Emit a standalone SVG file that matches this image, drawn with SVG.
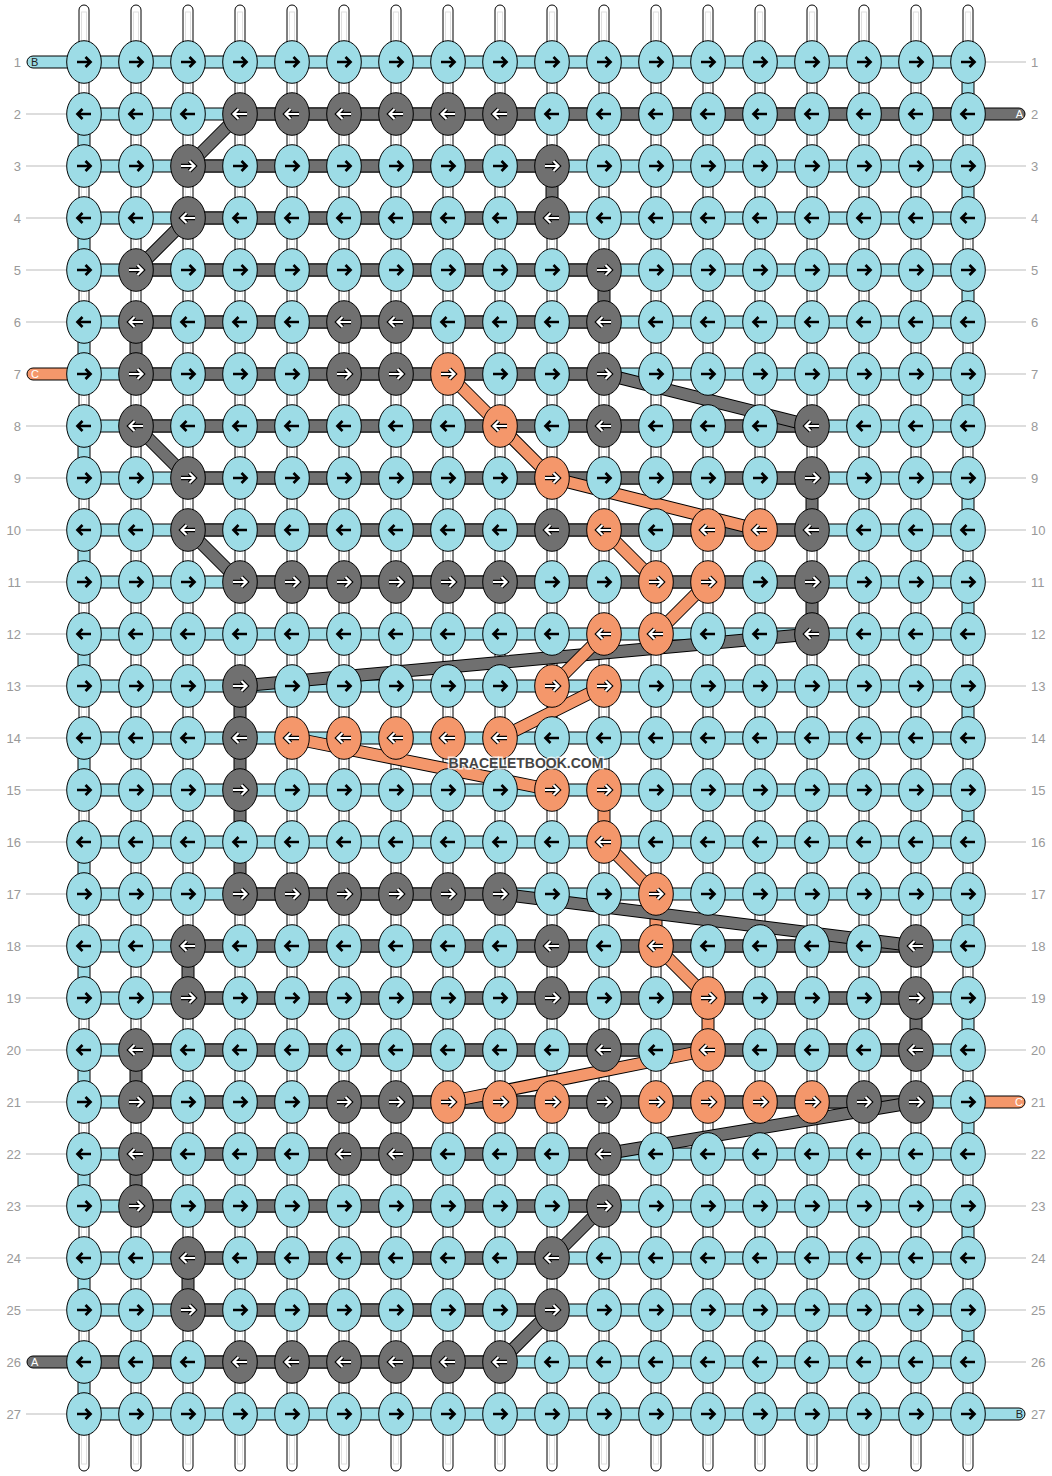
<svg xmlns="http://www.w3.org/2000/svg" width="1052" height="1476" viewBox="0 0 1052 1476">
<style>
.vs{fill:#fff;stroke:#000;stroke-width:1}
.vi{fill:none;stroke:#e0e0e0;stroke-width:1}
.hb{fill:#9ddce6;stroke:#000;stroke-width:1}
.ha{fill:#707070;stroke:#000;stroke-width:1}
.hc{fill:#f4976b;stroke:#000;stroke-width:1}
.do{stroke:#000;stroke-width:13;fill:none}
.da{stroke:#707070;stroke-width:11;fill:none}
.dc{stroke:#f4976b;stroke-width:11;fill:none}
.kb{fill:#9ddce6;stroke:#000;stroke-width:1}
.ka{fill:#707070;stroke:#000;stroke-width:1}
.kc{fill:#f4976b;stroke:#000;stroke-width:1}
.ab{fill:none;stroke:#000;stroke-width:2.7}
.ao{fill:none;stroke:#000;stroke-width:4.4}
.aw{fill:none;stroke:#fff;stroke-width:2.2}
.lbl{font-family:"Liberation Sans",Arial,sans-serif;font-size:13px;fill:#999}
.ll{stroke:#bbb;stroke-width:1}
.pl{font-family:"Liberation Sans",Arial,sans-serif;font-size:11px}
.wm{font-family:"Liberation Sans",Arial,sans-serif;font-size:14px;font-weight:bold;fill:#444;stroke:#fff;stroke-width:3;stroke-opacity:0.75;paint-order:stroke}
</style>
<defs>
<path id="ar" d="M-7 0H6.5M1.5-5L6.5 0 1.5 5"/>
<path id="al" d="M7 0H-6.5M-1.5-5L-6.5 0-1.5 5"/>
<g id="BR"><ellipse rx="17.3" ry="21.3" class="kb"/><use href="#ar" class="ab"/></g>
<g id="BL"><ellipse rx="17.3" ry="21.3" class="kb"/><use href="#al" class="ab"/></g>
<g id="AR"><ellipse rx="17.3" ry="21.3" class="ka"/><use href="#ar" class="ao"/><use href="#ar" class="aw"/></g>
<g id="AL"><ellipse rx="17.3" ry="21.3" class="ka"/><use href="#al" class="ao"/><use href="#al" class="aw"/></g>
<g id="CR"><ellipse rx="17.3" ry="21.3" class="kc"/><use href="#ar" class="ao"/><use href="#ar" class="aw"/></g>
<g id="CL"><ellipse rx="17.3" ry="21.3" class="kc"/><use href="#al" class="ao"/><use href="#al" class="aw"/></g>
</defs>
<rect width="1052" height="1476" fill="#fff"/>
<g id="verticals">
<rect class="vs" x="79" y="5" width="10" height="1466" rx="5"/><rect class="vs" x="131" y="5" width="10" height="1466" rx="5"/><rect class="vs" x="183" y="5" width="10" height="1466" rx="5"/><rect class="vs" x="235" y="5" width="10" height="1466" rx="5"/><rect class="vs" x="287" y="5" width="10" height="1466" rx="5"/><rect class="vs" x="339" y="5" width="10" height="1466" rx="5"/><rect class="vs" x="391" y="5" width="10" height="1466" rx="5"/><rect class="vs" x="443" y="5" width="10" height="1466" rx="5"/><rect class="vs" x="495" y="5" width="10" height="1466" rx="5"/><rect class="vs" x="547" y="5" width="10" height="1466" rx="5"/><rect class="vs" x="599" y="5" width="10" height="1466" rx="5"/><rect class="vs" x="651" y="5" width="10" height="1466" rx="5"/><rect class="vs" x="703" y="5" width="10" height="1466" rx="5"/><rect class="vs" x="755" y="5" width="10" height="1466" rx="5"/><rect class="vs" x="807" y="5" width="10" height="1466" rx="5"/><rect class="vs" x="859" y="5" width="10" height="1466" rx="5"/><rect class="vs" x="911" y="5" width="10" height="1466" rx="5"/><rect class="vs" x="963" y="5" width="10" height="1466" rx="5"/>
<rect class="vi" x="81.5" y="12" width="5" height="1452"/><rect class="vi" x="133.5" y="12" width="5" height="1452"/><rect class="vi" x="185.5" y="12" width="5" height="1452"/><rect class="vi" x="237.5" y="12" width="5" height="1452"/><rect class="vi" x="289.5" y="12" width="5" height="1452"/><rect class="vi" x="341.5" y="12" width="5" height="1452"/><rect class="vi" x="393.5" y="12" width="5" height="1452"/><rect class="vi" x="445.5" y="12" width="5" height="1452"/><rect class="vi" x="497.5" y="12" width="5" height="1452"/><rect class="vi" x="549.5" y="12" width="5" height="1452"/><rect class="vi" x="601.5" y="12" width="5" height="1452"/><rect class="vi" x="653.5" y="12" width="5" height="1452"/><rect class="vi" x="705.5" y="12" width="5" height="1452"/><rect class="vi" x="757.5" y="12" width="5" height="1452"/><rect class="vi" x="809.5" y="12" width="5" height="1452"/><rect class="vi" x="861.5" y="12" width="5" height="1452"/><rect class="vi" x="913.5" y="12" width="5" height="1452"/><rect class="vi" x="965.5" y="12" width="5" height="1452"/>
</g>
<g id="labels">
<g class="ll">
<line x1="26" y1="114" x2="66" y2="114"/><line x1="26" y1="166" x2="66" y2="166"/><line x1="26" y1="218" x2="66" y2="218"/><line x1="26" y1="270" x2="66" y2="270"/><line x1="26" y1="322" x2="66" y2="322"/><line x1="26" y1="426" x2="66" y2="426"/><line x1="26" y1="478" x2="66" y2="478"/><line x1="26" y1="530" x2="66" y2="530"/><line x1="26" y1="582" x2="66" y2="582"/><line x1="26" y1="634" x2="66" y2="634"/><line x1="26" y1="686" x2="66" y2="686"/><line x1="26" y1="738" x2="66" y2="738"/><line x1="26" y1="790" x2="66" y2="790"/><line x1="26" y1="842" x2="66" y2="842"/><line x1="26" y1="894" x2="66" y2="894"/><line x1="26" y1="946" x2="66" y2="946"/><line x1="26" y1="998" x2="66" y2="998"/><line x1="26" y1="1050" x2="66" y2="1050"/><line x1="26" y1="1102" x2="66" y2="1102"/><line x1="26" y1="1154" x2="66" y2="1154"/><line x1="26" y1="1206" x2="66" y2="1206"/><line x1="26" y1="1258" x2="66" y2="1258"/><line x1="26" y1="1310" x2="66" y2="1310"/><line x1="26" y1="1414" x2="66" y2="1414"/>
<line x1="986" y1="62" x2="1026" y2="62"/><line x1="986" y1="166" x2="1026" y2="166"/><line x1="986" y1="218" x2="1026" y2="218"/><line x1="986" y1="270" x2="1026" y2="270"/><line x1="986" y1="322" x2="1026" y2="322"/><line x1="986" y1="374" x2="1026" y2="374"/><line x1="986" y1="426" x2="1026" y2="426"/><line x1="986" y1="478" x2="1026" y2="478"/><line x1="986" y1="530" x2="1026" y2="530"/><line x1="986" y1="582" x2="1026" y2="582"/><line x1="986" y1="634" x2="1026" y2="634"/><line x1="986" y1="686" x2="1026" y2="686"/><line x1="986" y1="738" x2="1026" y2="738"/><line x1="986" y1="790" x2="1026" y2="790"/><line x1="986" y1="842" x2="1026" y2="842"/><line x1="986" y1="894" x2="1026" y2="894"/><line x1="986" y1="946" x2="1026" y2="946"/><line x1="986" y1="998" x2="1026" y2="998"/><line x1="986" y1="1050" x2="1026" y2="1050"/><line x1="986" y1="1154" x2="1026" y2="1154"/><line x1="986" y1="1206" x2="1026" y2="1206"/><line x1="986" y1="1258" x2="1026" y2="1258"/><line x1="986" y1="1310" x2="1026" y2="1310"/><line x1="986" y1="1362" x2="1026" y2="1362"/>
</g>
<g class="lbl" text-anchor="end">
<text x="21" y="67">1</text><text x="21" y="119">2</text><text x="21" y="171">3</text><text x="21" y="223">4</text><text x="21" y="275">5</text><text x="21" y="327">6</text><text x="21" y="379">7</text><text x="21" y="431">8</text><text x="21" y="483">9</text><text x="21" y="535">10</text><text x="21" y="587">11</text><text x="21" y="639">12</text><text x="21" y="691">13</text><text x="21" y="743">14</text><text x="21" y="795">15</text><text x="21" y="847">16</text><text x="21" y="899">17</text><text x="21" y="951">18</text><text x="21" y="1003">19</text><text x="21" y="1055">20</text><text x="21" y="1107">21</text><text x="21" y="1159">22</text><text x="21" y="1211">23</text><text x="21" y="1263">24</text><text x="21" y="1315">25</text><text x="21" y="1367">26</text><text x="21" y="1419">27</text>
</g>
<g class="lbl">
<text x="1031" y="67">1</text><text x="1031" y="119">2</text><text x="1031" y="171">3</text><text x="1031" y="223">4</text><text x="1031" y="275">5</text><text x="1031" y="327">6</text><text x="1031" y="379">7</text><text x="1031" y="431">8</text><text x="1031" y="483">9</text><text x="1031" y="535">10</text><text x="1031" y="587">11</text><text x="1031" y="639">12</text><text x="1031" y="691">13</text><text x="1031" y="743">14</text><text x="1031" y="795">15</text><text x="1031" y="847">16</text><text x="1031" y="899">17</text><text x="1031" y="951">18</text><text x="1031" y="1003">19</text><text x="1031" y="1055">20</text><text x="1031" y="1107">21</text><text x="1031" y="1159">22</text><text x="1031" y="1211">23</text><text x="1031" y="1263">24</text><text x="1031" y="1315">25</text><text x="1031" y="1367">26</text><text x="1031" y="1419">27</text>
</g>
</g>
<g id="connectors">
<g id="row-strings">
<rect class="hb" x="84" y="56" width="884" height="12"/><rect class="hb" x="84" y="108" width="884" height="12"/><rect class="hb" x="84" y="160" width="884" height="12"/><rect class="hb" x="84" y="212" width="884" height="12"/><rect class="hb" x="84" y="264" width="884" height="12"/><rect class="hb" x="84" y="316" width="884" height="12"/><rect class="hb" x="84" y="368" width="884" height="12"/><rect class="hb" x="84" y="420" width="884" height="12"/><rect class="hb" x="84" y="472" width="884" height="12"/><rect class="hb" x="84" y="524" width="884" height="12"/><rect class="hb" x="84" y="576" width="884" height="12"/><rect class="hb" x="84" y="628" width="884" height="12"/><rect class="hb" x="84" y="680" width="884" height="12"/><rect class="hb" x="84" y="732" width="884" height="12"/><rect class="hb" x="84" y="784" width="884" height="12"/><rect class="hb" x="84" y="836" width="884" height="12"/><rect class="hb" x="84" y="888" width="884" height="12"/><rect class="hb" x="84" y="940" width="884" height="12"/><rect class="hb" x="84" y="992" width="884" height="12"/><rect class="hb" x="84" y="1044" width="884" height="12"/><rect class="hb" x="84" y="1096" width="884" height="12"/><rect class="hb" x="84" y="1148" width="884" height="12"/><rect class="hb" x="84" y="1200" width="884" height="12"/><rect class="hb" x="84" y="1252" width="884" height="12"/><rect class="hb" x="84" y="1304" width="884" height="12"/><rect class="hb" x="84" y="1356" width="884" height="12"/><rect class="hb" x="84" y="1408" width="884" height="12"/>
<rect class="ha" x="240" y="108" width="728" height="12"/><rect class="ha" x="188" y="160" width="364" height="12"/><rect class="ha" x="188" y="212" width="364" height="12"/><rect class="ha" x="136" y="264" width="468" height="12"/><rect class="ha" x="136" y="316" width="468" height="12"/><rect class="ha" x="136" y="368" width="468" height="12"/><rect class="ha" x="136" y="420" width="676" height="12"/><rect class="ha" x="188" y="472" width="624" height="12"/><rect class="ha" x="188" y="524" width="624" height="12"/><rect class="ha" x="240" y="576" width="572" height="12"/><rect class="ha" x="240" y="888" width="260" height="12"/><rect class="ha" x="188" y="940" width="728" height="12"/><rect class="ha" x="188" y="992" width="728" height="12"/><rect class="ha" x="136" y="1044" width="780" height="12"/><rect class="ha" x="136" y="1096" width="780" height="12"/><rect class="ha" x="136" y="1148" width="468" height="12"/><rect class="ha" x="136" y="1200" width="468" height="12"/><rect class="ha" x="188" y="1252" width="364" height="12"/><rect class="ha" x="188" y="1304" width="364" height="12"/><rect class="ha" x="84" y="1356" width="416" height="12"/>
</g>
<g id="string-ends">
<rect class="hb" x="27" y="56" width="70" height="12" rx="6"/><rect class="hc" x="27" y="368" width="70" height="12" rx="6"/><rect class="ha" x="27" y="1356" width="70" height="12" rx="6"/>
<rect class="ha" x="955" y="108" width="70" height="12" rx="6"/><rect class="hc" x="955" y="1096" width="70" height="12" rx="6"/><rect class="hb" x="955" y="1408" width="70" height="12" rx="6"/>
<text class="pl" x="31" y="66" fill="#222">B</text><text class="pl" x="31" y="378" fill="#fff">C</text><text class="pl" x="31" y="1366" fill="#fff">A</text>
<text class="pl" x="1023" y="118" fill="#fff" text-anchor="end">A</text><text class="pl" x="1023" y="1106" fill="#fff" text-anchor="end">C</text><text class="pl" x="1023" y="1418" fill="#222" text-anchor="end">B</text>
</g>
<g id="column-links">
<rect class="hb" x="78" y="114" width="12" height="52"/><rect class="hb" x="78" y="218" width="12" height="52"/><rect class="hb" x="78" y="322" width="12" height="52"/><rect class="hb" x="78" y="426" width="12" height="52"/><rect class="hb" x="78" y="530" width="12" height="52"/><rect class="hb" x="78" y="634" width="12" height="52"/><rect class="hb" x="78" y="738" width="12" height="52"/><rect class="hb" x="78" y="842" width="12" height="52"/><rect class="hb" x="78" y="946" width="12" height="52"/><rect class="hb" x="78" y="1050" width="12" height="52"/><rect class="hb" x="78" y="1154" width="12" height="52"/><rect class="hb" x="78" y="1258" width="12" height="52"/><rect class="hb" x="78" y="1362" width="12" height="52"/>
<rect class="hb" x="962" y="62" width="12" height="52"/><rect class="hb" x="962" y="166" width="12" height="52"/><rect class="hb" x="962" y="270" width="12" height="52"/><rect class="hb" x="962" y="374" width="12" height="52"/><rect class="hb" x="962" y="478" width="12" height="52"/><rect class="hb" x="962" y="582" width="12" height="52"/><rect class="hb" x="962" y="686" width="12" height="52"/><rect class="hb" x="962" y="790" width="12" height="52"/><rect class="hb" x="962" y="894" width="12" height="52"/><rect class="hb" x="962" y="998" width="12" height="52"/><rect class="hb" x="962" y="1102" width="12" height="52"/><rect class="hb" x="962" y="1206" width="12" height="52"/><rect class="hb" x="962" y="1310" width="12" height="52"/>
<rect class="ha" x="546" y="166" width="12" height="52"/><rect class="ha" x="598" y="270" width="12" height="52"/><rect class="ha" x="130" y="322" width="12" height="52"/><rect class="ha" x="806" y="478" width="12" height="52"/><rect class="ha" x="806" y="582" width="12" height="52"/><rect class="ha" x="234" y="686" width="12" height="208"/><rect class="ha" x="182" y="946" width="12" height="52"/><rect class="ha" x="910" y="998" width="12" height="52"/><rect class="ha" x="130" y="1050" width="12" height="52"/><rect class="ha" x="130" y="1154" width="12" height="52"/><rect class="ha" x="182" y="1258" width="12" height="52"/>
<rect class="hc" x="598" y="790" width="12" height="52"/><rect class="hc" x="650" y="894" width="12" height="52"/><rect class="hc" x="702" y="998" width="12" height="52"/>
</g>
<g id="diagonals-gray">
<path class="do" d="M240 114L188 166M188 218L136 270M604 374L812 426M136 426L188 478M188 530L240 582M812 634L240 686M500 894L916 946M916 1102L604 1154M604 1206L552 1258M552 1310L500 1362"/>
<path class="da" d="M240 114L188 166M188 218L136 270M604 374L812 426M136 426L188 478M188 530L240 582M812 634L240 686M500 894L916 946M916 1102L604 1154M604 1206L552 1258M552 1310L500 1362"/>
</g>
<g id="diagonals-orange">
<path class="do" d="M448 374L500 426M500 426L552 478M552 478L760 530M604 530L656 582M708 582L656 634M604 634L552 686M604 686L500 738M292 738L552 790M604 842L656 894M656 946L708 998M708 1050L448 1102"/>
<path class="dc" d="M448 374L500 426M500 426L552 478M552 478L760 530M604 530L656 582M708 582L656 634M604 634L552 686M604 686L500 738M292 738L552 790M604 842L656 894M656 946L708 998M708 1050L448 1102"/>
</g>
</g>
<g id="knots">
<g transform="translate(0 62)"><g id="k1_1"><use href="#BR" x="84"/></g><g id="k1_2"><use href="#BR" x="136"/></g><g id="k1_3"><use href="#BR" x="188"/></g><g id="k1_4"><use href="#BR" x="240"/></g><g id="k1_5"><use href="#BR" x="292"/></g><g id="k1_6"><use href="#BR" x="344"/></g><g id="k1_7"><use href="#BR" x="396"/></g><g id="k1_8"><use href="#BR" x="448"/></g><g id="k1_9"><use href="#BR" x="500"/></g><g id="k1_10"><use href="#BR" x="552"/></g><g id="k1_11"><use href="#BR" x="604"/></g><g id="k1_12"><use href="#BR" x="656"/></g><g id="k1_13"><use href="#BR" x="708"/></g><g id="k1_14"><use href="#BR" x="760"/></g><g id="k1_15"><use href="#BR" x="812"/></g><g id="k1_16"><use href="#BR" x="864"/></g><g id="k1_17"><use href="#BR" x="916"/></g><g id="k1_18"><use href="#BR" x="968"/></g></g>
<g transform="translate(0 114)"><g id="k2_1"><use href="#BL" x="84"/></g><g id="k2_2"><use href="#BL" x="136"/></g><g id="k2_3"><use href="#BL" x="188"/></g><g id="k2_4"><use href="#AL" x="240"/></g><g id="k2_5"><use href="#AL" x="292"/></g><g id="k2_6"><use href="#AL" x="344"/></g><g id="k2_7"><use href="#AL" x="396"/></g><g id="k2_8"><use href="#AL" x="448"/></g><g id="k2_9"><use href="#AL" x="500"/></g><g id="k2_10"><use href="#BL" x="552"/></g><g id="k2_11"><use href="#BL" x="604"/></g><g id="k2_12"><use href="#BL" x="656"/></g><g id="k2_13"><use href="#BL" x="708"/></g><g id="k2_14"><use href="#BL" x="760"/></g><g id="k2_15"><use href="#BL" x="812"/></g><g id="k2_16"><use href="#BL" x="864"/></g><g id="k2_17"><use href="#BL" x="916"/></g><g id="k2_18"><use href="#BL" x="968"/></g></g>
<g transform="translate(0 166)"><g id="k3_1"><use href="#BR" x="84"/></g><g id="k3_2"><use href="#BR" x="136"/></g><g id="k3_3"><use href="#AR" x="188"/></g><g id="k3_4"><use href="#BR" x="240"/></g><g id="k3_5"><use href="#BR" x="292"/></g><g id="k3_6"><use href="#BR" x="344"/></g><g id="k3_7"><use href="#BR" x="396"/></g><g id="k3_8"><use href="#BR" x="448"/></g><g id="k3_9"><use href="#BR" x="500"/></g><g id="k3_10"><use href="#AR" x="552"/></g><g id="k3_11"><use href="#BR" x="604"/></g><g id="k3_12"><use href="#BR" x="656"/></g><g id="k3_13"><use href="#BR" x="708"/></g><g id="k3_14"><use href="#BR" x="760"/></g><g id="k3_15"><use href="#BR" x="812"/></g><g id="k3_16"><use href="#BR" x="864"/></g><g id="k3_17"><use href="#BR" x="916"/></g><g id="k3_18"><use href="#BR" x="968"/></g></g>
<g transform="translate(0 218)"><g id="k4_1"><use href="#BL" x="84"/></g><g id="k4_2"><use href="#BL" x="136"/></g><g id="k4_3"><use href="#AL" x="188"/></g><g id="k4_4"><use href="#BL" x="240"/></g><g id="k4_5"><use href="#BL" x="292"/></g><g id="k4_6"><use href="#BL" x="344"/></g><g id="k4_7"><use href="#BL" x="396"/></g><g id="k4_8"><use href="#BL" x="448"/></g><g id="k4_9"><use href="#BL" x="500"/></g><g id="k4_10"><use href="#AL" x="552"/></g><g id="k4_11"><use href="#BL" x="604"/></g><g id="k4_12"><use href="#BL" x="656"/></g><g id="k4_13"><use href="#BL" x="708"/></g><g id="k4_14"><use href="#BL" x="760"/></g><g id="k4_15"><use href="#BL" x="812"/></g><g id="k4_16"><use href="#BL" x="864"/></g><g id="k4_17"><use href="#BL" x="916"/></g><g id="k4_18"><use href="#BL" x="968"/></g></g>
<g transform="translate(0 270)"><g id="k5_1"><use href="#BR" x="84"/></g><g id="k5_2"><use href="#AR" x="136"/></g><g id="k5_3"><use href="#BR" x="188"/></g><g id="k5_4"><use href="#BR" x="240"/></g><g id="k5_5"><use href="#BR" x="292"/></g><g id="k5_6"><use href="#BR" x="344"/></g><g id="k5_7"><use href="#BR" x="396"/></g><g id="k5_8"><use href="#BR" x="448"/></g><g id="k5_9"><use href="#BR" x="500"/></g><g id="k5_10"><use href="#BR" x="552"/></g><g id="k5_11"><use href="#AR" x="604"/></g><g id="k5_12"><use href="#BR" x="656"/></g><g id="k5_13"><use href="#BR" x="708"/></g><g id="k5_14"><use href="#BR" x="760"/></g><g id="k5_15"><use href="#BR" x="812"/></g><g id="k5_16"><use href="#BR" x="864"/></g><g id="k5_17"><use href="#BR" x="916"/></g><g id="k5_18"><use href="#BR" x="968"/></g></g>
<g transform="translate(0 322)"><g id="k6_1"><use href="#BL" x="84"/></g><g id="k6_2"><use href="#AL" x="136"/></g><g id="k6_3"><use href="#BL" x="188"/></g><g id="k6_4"><use href="#BL" x="240"/></g><g id="k6_5"><use href="#BL" x="292"/></g><g id="k6_6"><use href="#AL" x="344"/></g><g id="k6_7"><use href="#AL" x="396"/></g><g id="k6_8"><use href="#BL" x="448"/></g><g id="k6_9"><use href="#BL" x="500"/></g><g id="k6_10"><use href="#BL" x="552"/></g><g id="k6_11"><use href="#AL" x="604"/></g><g id="k6_12"><use href="#BL" x="656"/></g><g id="k6_13"><use href="#BL" x="708"/></g><g id="k6_14"><use href="#BL" x="760"/></g><g id="k6_15"><use href="#BL" x="812"/></g><g id="k6_16"><use href="#BL" x="864"/></g><g id="k6_17"><use href="#BL" x="916"/></g><g id="k6_18"><use href="#BL" x="968"/></g></g>
<g transform="translate(0 374)"><g id="k7_1"><use href="#BR" x="84"/></g><g id="k7_2"><use href="#AR" x="136"/></g><g id="k7_3"><use href="#BR" x="188"/></g><g id="k7_4"><use href="#BR" x="240"/></g><g id="k7_5"><use href="#BR" x="292"/></g><g id="k7_6"><use href="#AR" x="344"/></g><g id="k7_7"><use href="#AR" x="396"/></g><g id="k7_8"><use href="#CR" x="448"/></g><g id="k7_9"><use href="#BR" x="500"/></g><g id="k7_10"><use href="#BR" x="552"/></g><g id="k7_11"><use href="#AR" x="604"/></g><g id="k7_12"><use href="#BR" x="656"/></g><g id="k7_13"><use href="#BR" x="708"/></g><g id="k7_14"><use href="#BR" x="760"/></g><g id="k7_15"><use href="#BR" x="812"/></g><g id="k7_16"><use href="#BR" x="864"/></g><g id="k7_17"><use href="#BR" x="916"/></g><g id="k7_18"><use href="#BR" x="968"/></g></g>
<g transform="translate(0 426)"><g id="k8_1"><use href="#BL" x="84"/></g><g id="k8_2"><use href="#AL" x="136"/></g><g id="k8_3"><use href="#BL" x="188"/></g><g id="k8_4"><use href="#BL" x="240"/></g><g id="k8_5"><use href="#BL" x="292"/></g><g id="k8_6"><use href="#BL" x="344"/></g><g id="k8_7"><use href="#BL" x="396"/></g><g id="k8_8"><use href="#BL" x="448"/></g><g id="k8_9"><use href="#CL" x="500"/></g><g id="k8_10"><use href="#BL" x="552"/></g><g id="k8_11"><use href="#AL" x="604"/></g><g id="k8_12"><use href="#BL" x="656"/></g><g id="k8_13"><use href="#BL" x="708"/></g><g id="k8_14"><use href="#BL" x="760"/></g><g id="k8_15"><use href="#AL" x="812"/></g><g id="k8_16"><use href="#BL" x="864"/></g><g id="k8_17"><use href="#BL" x="916"/></g><g id="k8_18"><use href="#BL" x="968"/></g></g>
<g transform="translate(0 478)"><g id="k9_1"><use href="#BR" x="84"/></g><g id="k9_2"><use href="#BR" x="136"/></g><g id="k9_3"><use href="#AR" x="188"/></g><g id="k9_4"><use href="#BR" x="240"/></g><g id="k9_5"><use href="#BR" x="292"/></g><g id="k9_6"><use href="#BR" x="344"/></g><g id="k9_7"><use href="#BR" x="396"/></g><g id="k9_8"><use href="#BR" x="448"/></g><g id="k9_9"><use href="#BR" x="500"/></g><g id="k9_10"><use href="#CR" x="552"/></g><g id="k9_11"><use href="#BR" x="604"/></g><g id="k9_12"><use href="#BR" x="656"/></g><g id="k9_13"><use href="#BR" x="708"/></g><g id="k9_14"><use href="#BR" x="760"/></g><g id="k9_15"><use href="#AR" x="812"/></g><g id="k9_16"><use href="#BR" x="864"/></g><g id="k9_17"><use href="#BR" x="916"/></g><g id="k9_18"><use href="#BR" x="968"/></g></g>
<g transform="translate(0 530)"><g id="k10_1"><use href="#BL" x="84"/></g><g id="k10_2"><use href="#BL" x="136"/></g><g id="k10_3"><use href="#AL" x="188"/></g><g id="k10_4"><use href="#BL" x="240"/></g><g id="k10_5"><use href="#BL" x="292"/></g><g id="k10_6"><use href="#BL" x="344"/></g><g id="k10_7"><use href="#BL" x="396"/></g><g id="k10_8"><use href="#BL" x="448"/></g><g id="k10_9"><use href="#BL" x="500"/></g><g id="k10_10"><use href="#AL" x="552"/></g><g id="k10_11"><use href="#CL" x="604"/></g><g id="k10_12"><use href="#BL" x="656"/></g><g id="k10_13"><use href="#CL" x="708"/></g><g id="k10_14"><use href="#CL" x="760"/></g><g id="k10_15"><use href="#AL" x="812"/></g><g id="k10_16"><use href="#BL" x="864"/></g><g id="k10_17"><use href="#BL" x="916"/></g><g id="k10_18"><use href="#BL" x="968"/></g></g>
<g transform="translate(0 582)"><g id="k11_1"><use href="#BR" x="84"/></g><g id="k11_2"><use href="#BR" x="136"/></g><g id="k11_3"><use href="#BR" x="188"/></g><g id="k11_4"><use href="#AR" x="240"/></g><g id="k11_5"><use href="#AR" x="292"/></g><g id="k11_6"><use href="#AR" x="344"/></g><g id="k11_7"><use href="#AR" x="396"/></g><g id="k11_8"><use href="#AR" x="448"/></g><g id="k11_9"><use href="#AR" x="500"/></g><g id="k11_10"><use href="#BR" x="552"/></g><g id="k11_11"><use href="#BR" x="604"/></g><g id="k11_12"><use href="#CR" x="656"/></g><g id="k11_13"><use href="#CR" x="708"/></g><g id="k11_14"><use href="#BR" x="760"/></g><g id="k11_15"><use href="#AR" x="812"/></g><g id="k11_16"><use href="#BR" x="864"/></g><g id="k11_17"><use href="#BR" x="916"/></g><g id="k11_18"><use href="#BR" x="968"/></g></g>
<g transform="translate(0 634)"><g id="k12_1"><use href="#BL" x="84"/></g><g id="k12_2"><use href="#BL" x="136"/></g><g id="k12_3"><use href="#BL" x="188"/></g><g id="k12_4"><use href="#BL" x="240"/></g><g id="k12_5"><use href="#BL" x="292"/></g><g id="k12_6"><use href="#BL" x="344"/></g><g id="k12_7"><use href="#BL" x="396"/></g><g id="k12_8"><use href="#BL" x="448"/></g><g id="k12_9"><use href="#BL" x="500"/></g><g id="k12_10"><use href="#BL" x="552"/></g><g id="k12_11"><use href="#CL" x="604"/></g><g id="k12_12"><use href="#CL" x="656"/></g><g id="k12_13"><use href="#BL" x="708"/></g><g id="k12_14"><use href="#BL" x="760"/></g><g id="k12_15"><use href="#AL" x="812"/></g><g id="k12_16"><use href="#BL" x="864"/></g><g id="k12_17"><use href="#BL" x="916"/></g><g id="k12_18"><use href="#BL" x="968"/></g></g>
<g transform="translate(0 686)"><g id="k13_1"><use href="#BR" x="84"/></g><g id="k13_2"><use href="#BR" x="136"/></g><g id="k13_3"><use href="#BR" x="188"/></g><g id="k13_4"><use href="#AR" x="240"/></g><g id="k13_5"><use href="#BR" x="292"/></g><g id="k13_6"><use href="#BR" x="344"/></g><g id="k13_7"><use href="#BR" x="396"/></g><g id="k13_8"><use href="#BR" x="448"/></g><g id="k13_9"><use href="#BR" x="500"/></g><g id="k13_10"><use href="#CR" x="552"/></g><g id="k13_11"><use href="#CR" x="604"/></g><g id="k13_12"><use href="#BR" x="656"/></g><g id="k13_13"><use href="#BR" x="708"/></g><g id="k13_14"><use href="#BR" x="760"/></g><g id="k13_15"><use href="#BR" x="812"/></g><g id="k13_16"><use href="#BR" x="864"/></g><g id="k13_17"><use href="#BR" x="916"/></g><g id="k13_18"><use href="#BR" x="968"/></g></g>
<g transform="translate(0 738)"><g id="k14_1"><use href="#BL" x="84"/></g><g id="k14_2"><use href="#BL" x="136"/></g><g id="k14_3"><use href="#BL" x="188"/></g><g id="k14_4"><use href="#AL" x="240"/></g><g id="k14_5"><use href="#CL" x="292"/></g><g id="k14_6"><use href="#CL" x="344"/></g><g id="k14_7"><use href="#CL" x="396"/></g><g id="k14_8"><use href="#CL" x="448"/></g><g id="k14_9"><use href="#CL" x="500"/></g><g id="k14_10"><use href="#BL" x="552"/></g><g id="k14_11"><use href="#BL" x="604"/></g><g id="k14_12"><use href="#BL" x="656"/></g><g id="k14_13"><use href="#BL" x="708"/></g><g id="k14_14"><use href="#BL" x="760"/></g><g id="k14_15"><use href="#BL" x="812"/></g><g id="k14_16"><use href="#BL" x="864"/></g><g id="k14_17"><use href="#BL" x="916"/></g><g id="k14_18"><use href="#BL" x="968"/></g></g>
<g transform="translate(0 790)"><g id="k15_1"><use href="#BR" x="84"/></g><g id="k15_2"><use href="#BR" x="136"/></g><g id="k15_3"><use href="#BR" x="188"/></g><g id="k15_4"><use href="#AR" x="240"/></g><g id="k15_5"><use href="#BR" x="292"/></g><g id="k15_6"><use href="#BR" x="344"/></g><g id="k15_7"><use href="#BR" x="396"/></g><g id="k15_8"><use href="#BR" x="448"/></g><g id="k15_9"><use href="#BR" x="500"/></g><g id="k15_10"><use href="#CR" x="552"/></g><g id="k15_11"><use href="#CR" x="604"/></g><g id="k15_12"><use href="#BR" x="656"/></g><g id="k15_13"><use href="#BR" x="708"/></g><g id="k15_14"><use href="#BR" x="760"/></g><g id="k15_15"><use href="#BR" x="812"/></g><g id="k15_16"><use href="#BR" x="864"/></g><g id="k15_17"><use href="#BR" x="916"/></g><g id="k15_18"><use href="#BR" x="968"/></g></g>
<g transform="translate(0 842)"><g id="k16_1"><use href="#BL" x="84"/></g><g id="k16_2"><use href="#BL" x="136"/></g><g id="k16_3"><use href="#BL" x="188"/></g><g id="k16_4"><use href="#BL" x="240"/></g><g id="k16_5"><use href="#BL" x="292"/></g><g id="k16_6"><use href="#BL" x="344"/></g><g id="k16_7"><use href="#BL" x="396"/></g><g id="k16_8"><use href="#BL" x="448"/></g><g id="k16_9"><use href="#BL" x="500"/></g><g id="k16_10"><use href="#BL" x="552"/></g><g id="k16_11"><use href="#CL" x="604"/></g><g id="k16_12"><use href="#BL" x="656"/></g><g id="k16_13"><use href="#BL" x="708"/></g><g id="k16_14"><use href="#BL" x="760"/></g><g id="k16_15"><use href="#BL" x="812"/></g><g id="k16_16"><use href="#BL" x="864"/></g><g id="k16_17"><use href="#BL" x="916"/></g><g id="k16_18"><use href="#BL" x="968"/></g></g>
<g transform="translate(0 894)"><g id="k17_1"><use href="#BR" x="84"/></g><g id="k17_2"><use href="#BR" x="136"/></g><g id="k17_3"><use href="#BR" x="188"/></g><g id="k17_4"><use href="#AR" x="240"/></g><g id="k17_5"><use href="#AR" x="292"/></g><g id="k17_6"><use href="#AR" x="344"/></g><g id="k17_7"><use href="#AR" x="396"/></g><g id="k17_8"><use href="#AR" x="448"/></g><g id="k17_9"><use href="#AR" x="500"/></g><g id="k17_10"><use href="#BR" x="552"/></g><g id="k17_11"><use href="#BR" x="604"/></g><g id="k17_12"><use href="#CR" x="656"/></g><g id="k17_13"><use href="#BR" x="708"/></g><g id="k17_14"><use href="#BR" x="760"/></g><g id="k17_15"><use href="#BR" x="812"/></g><g id="k17_16"><use href="#BR" x="864"/></g><g id="k17_17"><use href="#BR" x="916"/></g><g id="k17_18"><use href="#BR" x="968"/></g></g>
<g transform="translate(0 946)"><g id="k18_1"><use href="#BL" x="84"/></g><g id="k18_2"><use href="#BL" x="136"/></g><g id="k18_3"><use href="#AL" x="188"/></g><g id="k18_4"><use href="#BL" x="240"/></g><g id="k18_5"><use href="#BL" x="292"/></g><g id="k18_6"><use href="#BL" x="344"/></g><g id="k18_7"><use href="#BL" x="396"/></g><g id="k18_8"><use href="#BL" x="448"/></g><g id="k18_9"><use href="#BL" x="500"/></g><g id="k18_10"><use href="#AL" x="552"/></g><g id="k18_11"><use href="#BL" x="604"/></g><g id="k18_12"><use href="#CL" x="656"/></g><g id="k18_13"><use href="#BL" x="708"/></g><g id="k18_14"><use href="#BL" x="760"/></g><g id="k18_15"><use href="#BL" x="812"/></g><g id="k18_16"><use href="#BL" x="864"/></g><g id="k18_17"><use href="#AL" x="916"/></g><g id="k18_18"><use href="#BL" x="968"/></g></g>
<g transform="translate(0 998)"><g id="k19_1"><use href="#BR" x="84"/></g><g id="k19_2"><use href="#BR" x="136"/></g><g id="k19_3"><use href="#AR" x="188"/></g><g id="k19_4"><use href="#BR" x="240"/></g><g id="k19_5"><use href="#BR" x="292"/></g><g id="k19_6"><use href="#BR" x="344"/></g><g id="k19_7"><use href="#BR" x="396"/></g><g id="k19_8"><use href="#BR" x="448"/></g><g id="k19_9"><use href="#BR" x="500"/></g><g id="k19_10"><use href="#AR" x="552"/></g><g id="k19_11"><use href="#BR" x="604"/></g><g id="k19_12"><use href="#BR" x="656"/></g><g id="k19_13"><use href="#CR" x="708"/></g><g id="k19_14"><use href="#BR" x="760"/></g><g id="k19_15"><use href="#BR" x="812"/></g><g id="k19_16"><use href="#BR" x="864"/></g><g id="k19_17"><use href="#AR" x="916"/></g><g id="k19_18"><use href="#BR" x="968"/></g></g>
<g transform="translate(0 1050)"><g id="k20_1"><use href="#BL" x="84"/></g><g id="k20_2"><use href="#AL" x="136"/></g><g id="k20_3"><use href="#BL" x="188"/></g><g id="k20_4"><use href="#BL" x="240"/></g><g id="k20_5"><use href="#BL" x="292"/></g><g id="k20_6"><use href="#BL" x="344"/></g><g id="k20_7"><use href="#BL" x="396"/></g><g id="k20_8"><use href="#BL" x="448"/></g><g id="k20_9"><use href="#BL" x="500"/></g><g id="k20_10"><use href="#BL" x="552"/></g><g id="k20_11"><use href="#AL" x="604"/></g><g id="k20_12"><use href="#BL" x="656"/></g><g id="k20_13"><use href="#CL" x="708"/></g><g id="k20_14"><use href="#BL" x="760"/></g><g id="k20_15"><use href="#BL" x="812"/></g><g id="k20_16"><use href="#BL" x="864"/></g><g id="k20_17"><use href="#AL" x="916"/></g><g id="k20_18"><use href="#BL" x="968"/></g></g>
<g transform="translate(0 1102)"><g id="k21_1"><use href="#BR" x="84"/></g><g id="k21_2"><use href="#AR" x="136"/></g><g id="k21_3"><use href="#BR" x="188"/></g><g id="k21_4"><use href="#BR" x="240"/></g><g id="k21_5"><use href="#BR" x="292"/></g><g id="k21_6"><use href="#AR" x="344"/></g><g id="k21_7"><use href="#AR" x="396"/></g><g id="k21_8"><use href="#CR" x="448"/></g><g id="k21_9"><use href="#CR" x="500"/></g><g id="k21_10"><use href="#CR" x="552"/></g><g id="k21_11"><use href="#AR" x="604"/></g><g id="k21_12"><use href="#CR" x="656"/></g><g id="k21_13"><use href="#CR" x="708"/></g><g id="k21_14"><use href="#CR" x="760"/></g><g id="k21_15"><use href="#CR" x="812"/></g><g id="k21_16"><use href="#AR" x="864"/></g><g id="k21_17"><use href="#AR" x="916"/></g><g id="k21_18"><use href="#BR" x="968"/></g></g>
<g transform="translate(0 1154)"><g id="k22_1"><use href="#BL" x="84"/></g><g id="k22_2"><use href="#AL" x="136"/></g><g id="k22_3"><use href="#BL" x="188"/></g><g id="k22_4"><use href="#BL" x="240"/></g><g id="k22_5"><use href="#BL" x="292"/></g><g id="k22_6"><use href="#AL" x="344"/></g><g id="k22_7"><use href="#AL" x="396"/></g><g id="k22_8"><use href="#BL" x="448"/></g><g id="k22_9"><use href="#BL" x="500"/></g><g id="k22_10"><use href="#BL" x="552"/></g><g id="k22_11"><use href="#AL" x="604"/></g><g id="k22_12"><use href="#BL" x="656"/></g><g id="k22_13"><use href="#BL" x="708"/></g><g id="k22_14"><use href="#BL" x="760"/></g><g id="k22_15"><use href="#BL" x="812"/></g><g id="k22_16"><use href="#BL" x="864"/></g><g id="k22_17"><use href="#BL" x="916"/></g><g id="k22_18"><use href="#BL" x="968"/></g></g>
<g transform="translate(0 1206)"><g id="k23_1"><use href="#BR" x="84"/></g><g id="k23_2"><use href="#AR" x="136"/></g><g id="k23_3"><use href="#BR" x="188"/></g><g id="k23_4"><use href="#BR" x="240"/></g><g id="k23_5"><use href="#BR" x="292"/></g><g id="k23_6"><use href="#BR" x="344"/></g><g id="k23_7"><use href="#BR" x="396"/></g><g id="k23_8"><use href="#BR" x="448"/></g><g id="k23_9"><use href="#BR" x="500"/></g><g id="k23_10"><use href="#BR" x="552"/></g><g id="k23_11"><use href="#AR" x="604"/></g><g id="k23_12"><use href="#BR" x="656"/></g><g id="k23_13"><use href="#BR" x="708"/></g><g id="k23_14"><use href="#BR" x="760"/></g><g id="k23_15"><use href="#BR" x="812"/></g><g id="k23_16"><use href="#BR" x="864"/></g><g id="k23_17"><use href="#BR" x="916"/></g><g id="k23_18"><use href="#BR" x="968"/></g></g>
<g transform="translate(0 1258)"><g id="k24_1"><use href="#BL" x="84"/></g><g id="k24_2"><use href="#BL" x="136"/></g><g id="k24_3"><use href="#AL" x="188"/></g><g id="k24_4"><use href="#BL" x="240"/></g><g id="k24_5"><use href="#BL" x="292"/></g><g id="k24_6"><use href="#BL" x="344"/></g><g id="k24_7"><use href="#BL" x="396"/></g><g id="k24_8"><use href="#BL" x="448"/></g><g id="k24_9"><use href="#BL" x="500"/></g><g id="k24_10"><use href="#AL" x="552"/></g><g id="k24_11"><use href="#BL" x="604"/></g><g id="k24_12"><use href="#BL" x="656"/></g><g id="k24_13"><use href="#BL" x="708"/></g><g id="k24_14"><use href="#BL" x="760"/></g><g id="k24_15"><use href="#BL" x="812"/></g><g id="k24_16"><use href="#BL" x="864"/></g><g id="k24_17"><use href="#BL" x="916"/></g><g id="k24_18"><use href="#BL" x="968"/></g></g>
<g transform="translate(0 1310)"><g id="k25_1"><use href="#BR" x="84"/></g><g id="k25_2"><use href="#BR" x="136"/></g><g id="k25_3"><use href="#AR" x="188"/></g><g id="k25_4"><use href="#BR" x="240"/></g><g id="k25_5"><use href="#BR" x="292"/></g><g id="k25_6"><use href="#BR" x="344"/></g><g id="k25_7"><use href="#BR" x="396"/></g><g id="k25_8"><use href="#BR" x="448"/></g><g id="k25_9"><use href="#BR" x="500"/></g><g id="k25_10"><use href="#AR" x="552"/></g><g id="k25_11"><use href="#BR" x="604"/></g><g id="k25_12"><use href="#BR" x="656"/></g><g id="k25_13"><use href="#BR" x="708"/></g><g id="k25_14"><use href="#BR" x="760"/></g><g id="k25_15"><use href="#BR" x="812"/></g><g id="k25_16"><use href="#BR" x="864"/></g><g id="k25_17"><use href="#BR" x="916"/></g><g id="k25_18"><use href="#BR" x="968"/></g></g>
<g transform="translate(0 1362)"><g id="k26_1"><use href="#BL" x="84"/></g><g id="k26_2"><use href="#BL" x="136"/></g><g id="k26_3"><use href="#BL" x="188"/></g><g id="k26_4"><use href="#AL" x="240"/></g><g id="k26_5"><use href="#AL" x="292"/></g><g id="k26_6"><use href="#AL" x="344"/></g><g id="k26_7"><use href="#AL" x="396"/></g><g id="k26_8"><use href="#AL" x="448"/></g><g id="k26_9"><use href="#AL" x="500"/></g><g id="k26_10"><use href="#BL" x="552"/></g><g id="k26_11"><use href="#BL" x="604"/></g><g id="k26_12"><use href="#BL" x="656"/></g><g id="k26_13"><use href="#BL" x="708"/></g><g id="k26_14"><use href="#BL" x="760"/></g><g id="k26_15"><use href="#BL" x="812"/></g><g id="k26_16"><use href="#BL" x="864"/></g><g id="k26_17"><use href="#BL" x="916"/></g><g id="k26_18"><use href="#BL" x="968"/></g></g>
<g transform="translate(0 1414)"><g id="k27_1"><use href="#BR" x="84"/></g><g id="k27_2"><use href="#BR" x="136"/></g><g id="k27_3"><use href="#BR" x="188"/></g><g id="k27_4"><use href="#BR" x="240"/></g><g id="k27_5"><use href="#BR" x="292"/></g><g id="k27_6"><use href="#BR" x="344"/></g><g id="k27_7"><use href="#BR" x="396"/></g><g id="k27_8"><use href="#BR" x="448"/></g><g id="k27_9"><use href="#BR" x="500"/></g><g id="k27_10"><use href="#BR" x="552"/></g><g id="k27_11"><use href="#BR" x="604"/></g><g id="k27_12"><use href="#BR" x="656"/></g><g id="k27_13"><use href="#BR" x="708"/></g><g id="k27_14"><use href="#BR" x="760"/></g><g id="k27_15"><use href="#BR" x="812"/></g><g id="k27_16"><use href="#BR" x="864"/></g><g id="k27_17"><use href="#BR" x="916"/></g><g id="k27_18"><use href="#BR" x="968"/></g></g>
</g>
<text class="wm" x="526" y="768" text-anchor="middle">BRACELETBOOK.COM</text>
</svg>
